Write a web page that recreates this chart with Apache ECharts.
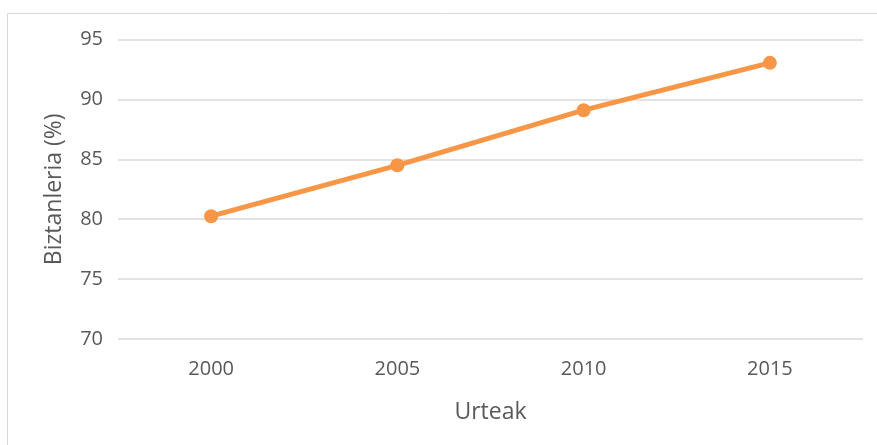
<!DOCTYPE html>
<html>
<head>
<meta charset="utf-8">
<script src="https://cdn.jsdelivr.net/npm/echarts@6/dist/echarts.min.js"></script>
<style>
  html, body { margin: 0; padding: 0; background: #fff; }
  #chart { width: 877px; height: 445px; }
</style>
</head>
<body>
<div id="chart"></div>
<script>
// Population share by year
const years = ['2000', '2005', '2010', '2015'];
const population = [80.25, 84.5, 89.1, 93.05];
const yTicks = { min: 70, max: 95, interval: 5 };

const font = 'Open Sans';
const chart = echarts.init(document.getElementById('chart'));
chart.setOption({
  backgroundColor: '#ffffff',
  animation: false,
  graphic: [{
    type: 'rect',
    shape: { x: 7.5, y: 13.5, width: 900, height: 460 },
    style: { fill: 'none', stroke: '#d9d9d9', lineWidth: 1 },
    silent: true
  }],
  grid: { left: 118, right: 14, top: 39.5, bottom: 106 },
  xAxis: {
    type: 'category',
    data: years,
    boundaryGap: true,
    name: 'Urteak',
    nameLocation: 'middle',
    nameGap: 62,
    nameTextStyle: { color: '#595959', fontSize: 23, fontFamily: font },
    axisLine: { show: false },
    axisTick: { show: false },
    axisLabel: { color: '#595959', fontSize: 20, fontFamily: font, margin: 20 }
  },
  yAxis: {
    type: 'value',
    min: yTicks.min,
    max: yTicks.max,
    interval: yTicks.interval,
    name: 'Biztanleria (%)',
    nameLocation: 'middle',
    nameGap: 52,
    nameTextStyle: { color: '#595959', fontSize: 23, fontFamily: font },
    axisLine: { show: false },
    axisTick: { show: false },
    axisLabel: { color: '#595959', fontSize: 20, fontFamily: font, margin: 15 },
    splitLine: { lineStyle: { color: '#d9d9d9', width: 1.5 } }
  },
  series: [{
    type: 'line',
    data: population,
    symbol: 'circle',
    symbolSize: 14,
    lineStyle: { color: '#f79646', width: 5 },
    itemStyle: { color: '#f79646' }
  }]
});
</script>
</body>
</html>
